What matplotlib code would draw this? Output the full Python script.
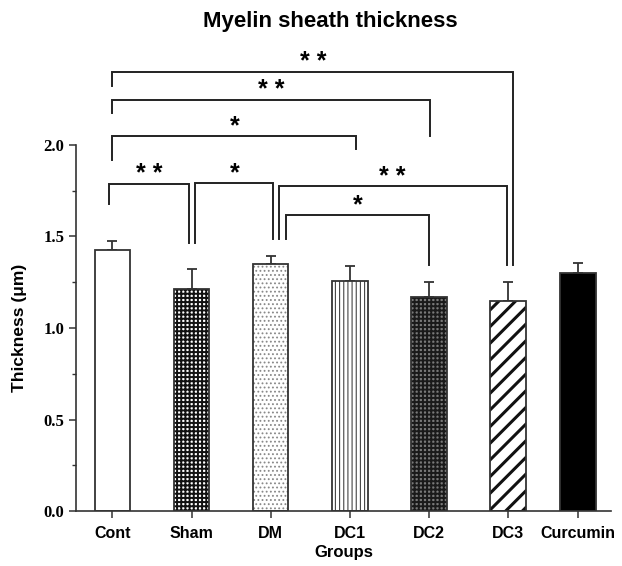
import matplotlib
matplotlib.use("Agg")
import matplotlib.pyplot as plt
from matplotlib.ticker import MultipleLocator

# ---------------- data ----------------
groups = ["Cont", "Sham", "DM", "DC1", "DC2", "DC3", "Curcumin"]
means = [1.425, 1.211, 1.350, 1.255, 1.171, 1.148, 1.300]
errors = [0.052, 0.110, 0.045, 0.084, 0.080, 0.103, 0.055]

# significance brackets: (left x, right x, bar height, left leg end, right leg end, text x, text y, label)
brackets = [
    (0.00, 5.06, 2.400, 2.320, 1.344, 2.54, 2.47, "**"),
    (0.00, 4.01, 2.246, 2.176, 2.051, 2.01, 2.32, "**"),
    (0.00, 3.08, 2.049, 1.918, 1.978, 1.54, 2.12, "*"),
    (-0.04, 0.97, 1.787, 1.678, 1.464, 0.47, 1.86, "**"),
    (1.045, 2.03, 1.794, 1.464, 1.486, 1.54, 1.86, "*"),
    (2.11, 4.99, 1.776, 1.486, 1.344, 3.54, 1.84, "**"),
    (2.19, 4.00, 1.617, 1.486, 1.344, 3.10, 1.685, "*"),
]

# ---------------- style ----------------
positions = [0, 1, 2, 3, 4, 5, 5.88]
styles = [
    dict(face="white", hatch=None, hcolor="black", hlw=1.0),
    dict(face="white", hatch="++++", hcolor="#111111", hlw=1.4),
    dict(face="white", hatch="....", hcolor="#888888", hlw=0.8),
    dict(face="white", hatch="||||", hcolor="#444444", hlw=0.8),
    dict(face="#7a7a7a", hatch="++++", hcolor="#1a1a1a", hlw=1.4),
    dict(face="white", hatch="//", hcolor="#111111", hlw=2.2),
    dict(face="black", hatch=None, hcolor="black", hlw=1.0),
]
edge = "#333333"
sans = ["Liberation Sans", "DejaVu Sans"]
serif = ["Liberation Serif", "DejaVu Serif"]
star_drop = 0.017

fig = plt.figure(figsize=(6.22, 5.66), dpi=100)
ax = fig.add_axes([76 / 622, 55 / 566, (611 - 76) / 622, 366 / 566])

width = 0.45
for x, m, st in zip(positions, means, styles):
    matplotlib.rcParams["hatch.linewidth"] = st["hlw"]
    b = ax.bar(x, m, width=width, color=st["face"], edgecolor=st["hcolor"],
               hatch=st["hatch"], linewidth=0, zorder=2)
    for p in b:
        try:
            p.set_hatch_linewidth(st["hlw"])
        except AttributeError:
            pass
ax.bar(positions, means, width=width, fill=False, edgecolor=edge,
       linewidth=1.3, zorder=3)
ax.errorbar(positions, means, yerr=[[0] * len(errors), errors], fmt="none",
            ecolor=edge, elinewidth=1.3, capsize=3.8, capthick=1.3, zorder=1)

for xl, xr, yh, yl, yr, tx, ty, lab in brackets:
    ax.plot([xl, xl, xr, xr], [yl, yh, yh, yr], color="#222222", lw=1.4,
            clip_on=False, solid_joinstyle="miter", zorder=4)
    ax.text(tx, ty - star_drop, " ".join(lab), ha="center", va="center",
            fontsize=18, fontweight="bold", family=sans, clip_on=False)

ax.set_xlim(-0.46, 6.3)
ax.set_ylim(0, 2.0)
ax.spines["top"].set_visible(False)
ax.spines["right"].set_visible(False)
for s in ("left", "bottom"):
    ax.spines[s].set_linewidth(1.2)
    ax.spines[s].set_color(edge)

ax.yaxis.set_major_locator(MultipleLocator(0.5))
ax.yaxis.set_minor_locator(MultipleLocator(0.25))
ax.set_yticks([0, 0.5, 1.0, 1.5, 2.0])
ax.set_yticklabels(["0.0", "0.5", "1.0", "1.5", "2.0"], family=serif,
                   fontweight="bold", fontsize=12)
ax.set_xticks(positions)
ax.set_xticklabels(groups, family=sans, fontweight="bold", fontsize=11.5)
ax.tick_params(axis="both", which="major", direction="out", length=5,
               width=1.1, color=edge)
ax.tick_params(axis="y", which="minor", direction="out", length=3,
               width=1.0, color=edge)
ax.tick_params(axis="x", pad=6)

ax.set_xlabel("Groups", family=sans, fontweight="bold", fontsize=12,
              labelpad=3)
ax.set_ylabel("Thickness (μm)", family=sans, fontweight="bold",
              fontsize=12.5, labelpad=12)
fig.text(330 / 622, 1 - 21 / 566, "Myelin sheath thickness", ha="center",
         va="center", family=sans, fontweight="bold", fontsize=16)

fig.savefig("out.png", dpi=100, facecolor="white")
